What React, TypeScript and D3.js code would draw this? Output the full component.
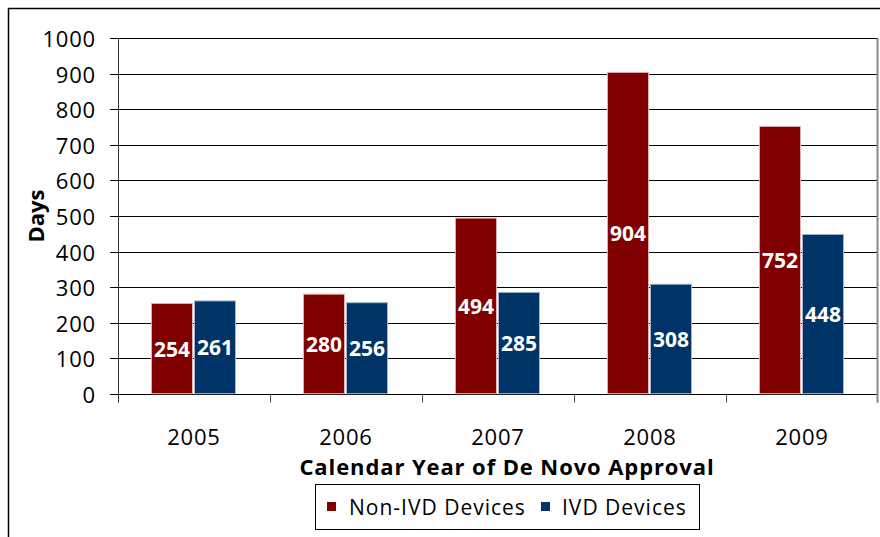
import { useMemo } from 'react';
import * as d3 from 'd3';

const years = ['2005', '2006', '2007', '2008', '2009'];
const nonIvd = [254, 280, 494, 904, 752];
const ivd = [261, 256, 285, 308, 448];
const yTicks = [0, 100, 200, 300, 400, 500, 600, 700, 800, 900, 1000];

const seriesNames = ['Non-IVD Devices', 'IVD Devices'];
const RED = '#800000';
const BLUE = '#003366';

const FONT = '"Open Sans", Lato, sans-serif';

const width = 880;
const height = 537;
const plot = { left: 118, right: 878, top: 38.3, bottom: 393.7 };

export default function App() {
  const xScale = useMemo(
    () => d3.scaleBand().domain(years).range([plot.left, plot.right]),
    []
  );
  const yScale = useMemo(
    () => d3.scaleLinear().domain([0, 1000]).range([plot.bottom, plot.top]),
    []
  );

  const barW = 42;

  const bars = years.flatMap((yr, i) => {
    const cx = (xScale(yr) ?? 0) + xScale.bandwidth() / 2;
    return [
      { key: `n${i}`, x: cx - barW - 0.5, v: nonIvd[i], fill: RED, stroke: '#e0b0b0' },
      { key: `i${i}`, x: cx + 0.5, v: ivd[i], fill: BLUE, stroke: '#9fb3cc' },
    ];
  });

  return (
    <svg
      width={width}
      height={height}
      style={{ position: 'absolute', left: 0, top: 0 }}
      fontFamily={FONT}
    >
      <rect x={0} y={0} width={width} height={height} fill="white" />
      {/* outer frame */}
      <rect x={8.5} y={8.5} width={width + 20} height={height + 20} fill="none" stroke="#000" strokeWidth={1.5} />

      {/* gridlines */}
      {yTicks.map((t) => (
        <line
          key={t}
          x1={plot.left - 8}
          x2={plot.right}
          y1={Math.round(yScale(t)) + 0.5}
          y2={Math.round(yScale(t)) + 0.5}
          stroke="#000"
          strokeWidth={1}
        />
      ))}

      {/* right border of plot */}
      <line x1={plot.right - 0.5} x2={plot.right - 0.5} y1={plot.top} y2={plot.bottom + 9} stroke="#888" strokeWidth={2} />

      {/* y axis */}
      <line x1={plot.left + 0.5} x2={plot.left + 0.5} y1={plot.top} y2={plot.bottom + 9} stroke="#333" strokeWidth={1} />
      {years.slice(1).map((yr) => (
        <line
          key={yr}
          x1={(xScale(yr) ?? 0) + 0.5}
          x2={(xScale(yr) ?? 0) + 0.5}
          y1={plot.bottom}
          y2={plot.bottom + 9}
          stroke="#555"
        />
      ))}

      {/* bars */}
      {bars.map((b) => (
        <rect
          key={b.key}
          x={b.x}
          y={yScale(b.v)}
          width={barW - 1}
          height={plot.bottom - yScale(b.v)}
          fill={b.fill}
          stroke={b.stroke}
          strokeWidth={1}
        />
      ))}
      {bars.map((b) => (
        <text
          key={`t${b.key}`}
          x={b.x + (barW - 1) / 2}
          y={(yScale(b.v) + plot.bottom) / 2}
          textAnchor="middle"
          dominantBaseline="central"
          fill="#fff"
          fontWeight="bold"
          fontSize={21}
        >
          {b.v}
        </text>
      ))}

      {/* y tick labels */}
      {yTicks.map((t) => (
        <text
          key={`y${t}`}
          x={96}
          y={yScale(t)}
          textAnchor="end"
          dominantBaseline="central"
          fontSize={22}
          letterSpacing={0.8}
          fill="#000"
        >
          {t}
        </text>
      ))}

      {/* x tick labels */}
      {years.map((yr) => (
        <text
          key={`x${yr}`}
          x={(xScale(yr) ?? 0) + xScale.bandwidth() / 2}
          y={436}
          textAnchor="middle"
          dominantBaseline="central"
          fontSize={22}
          letterSpacing={0.8}
          fill="#000"
        >
          {yr}
        </text>
      ))}

      {/* axis titles */}
      <text
        transform={`translate(35,${(plot.top + plot.bottom) / 2}) rotate(-90)`}
        textAnchor="middle"
        dominantBaseline="central"
        fontWeight="bold"
        fontSize={22}
      >
        Days
      </text>
      <text x={507} y={466} textAnchor="middle" dominantBaseline="central" fontWeight="bold" fontSize={22} letterSpacing={0.9}>
        Calendar Year of De Novo Approval
      </text>

      {/* legend */}
      <rect x={315.5} y={484.5} width={384} height={45} fill="#fff" stroke="#000" strokeWidth={1} />
      <rect x={327} y={502} width={9} height={9} fill={RED} />
      <text x={349} y={507} dominantBaseline="central" fontSize={21} letterSpacing={1}>
        {seriesNames[0]}
      </text>
      <rect x={541} y={502} width={9} height={9} fill={BLUE} />
      <text x={562} y={507} dominantBaseline="central" fontSize={21} letterSpacing={1}>
        {seriesNames[1]}
      </text>
    </svg>
  );
}
